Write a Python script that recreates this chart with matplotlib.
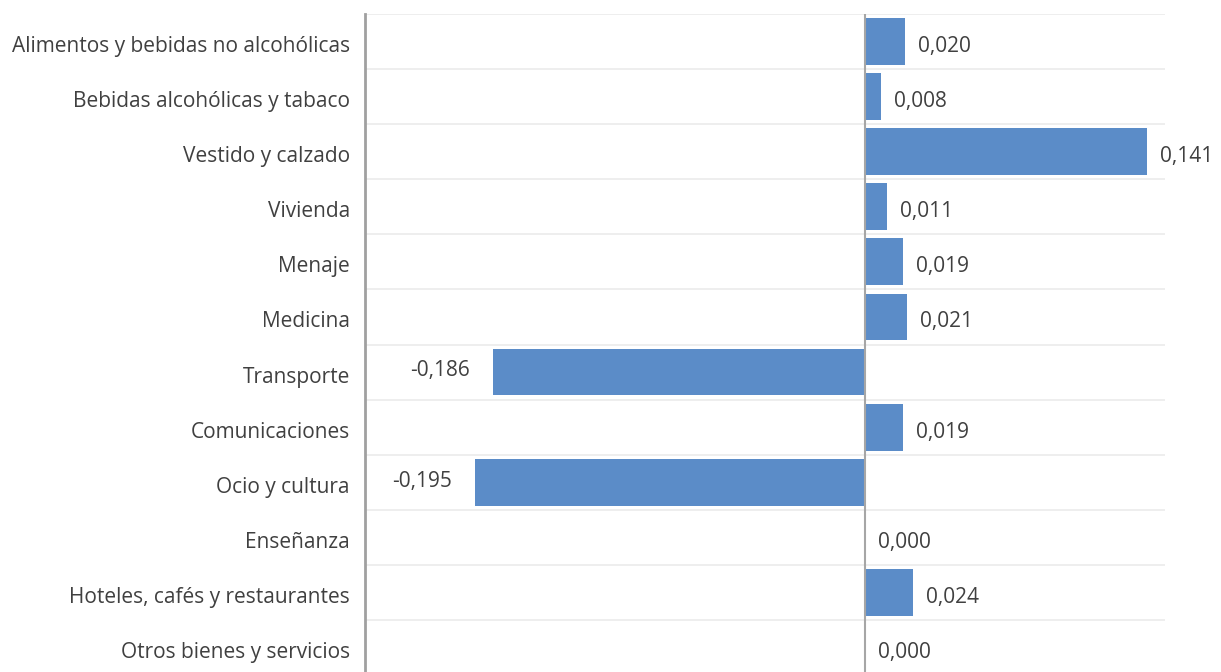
import matplotlib
matplotlib.use('Agg')
import matplotlib.pyplot as plt

plt.rcParams['font.family'] = ['Open Sans', 'DejaVu Sans']

# --- Datos ---
categorias = [
    'Alimentos y bebidas no alcohólicas',
    'Bebidas alcohólicas y tabaco',
    'Vestido y calzado',
    'Vivienda',
    'Menaje',
    'Medicina',
    'Transporte',
    'Comunicaciones',
    'Ocio y cultura',
    'Enseñanza',
    'Hoteles, cafés y restaurantes',
    'Otros bienes y servicios',
]
valores = [0.020, 0.008, 0.141, 0.011, 0.019, 0.021,
           -0.186, 0.019, -0.195, 0.000, 0.024, 0.000]

TEXT = '#404040'
BAR = '#5B8CC8'
FS = 15

W, H = 1221, 672
fig = plt.figure(figsize=(W / 100, H / 100), dpi=100)
# area de trazado: x 365..1165 px, y 14..675 px
ax = fig.add_axes([365 / W, (H - 675) / H, 800 / W, 661 / H])

pos = list(range(len(categorias)))
ax.barh(pos, valores, height=0.85, color=BAR, zorder=3)

# lineas de separacion entre categorias
for i in range(len(categorias) + 1):
    ax.axhline(i - 0.5, color='#ebebeb', linewidth=1.2, zorder=1)
ax.axvline(0, color='#a6a6a6', linewidth=1.5, zorder=4)

# etiquetas de datos
for p, v in zip(pos, valores):
    txt = f'{v:.3f}'.replace('.', ',')
    if v < 0:
        ax.text(v - 0.0115, p + 0.08, txt, ha='right', va='baseline',
                fontsize=FS, color=TEXT)
    else:
        ax.text(v + 0.0064, p + 0.19, txt, ha='left', va='baseline',
                fontsize=FS, color=TEXT)

# etiquetas de categorias
ytr = ax.get_yaxis_transform()
for p, c in zip(pos, categorias):
    ax.text(-15 / 800, p + 0.19, c, transform=ytr, ha='right', va='baseline',
            fontsize=FS, color=TEXT)

ax.set_xlim(-0.25, 0.15)
ax.set_ylim(len(categorias) - 0.5, -0.5)
ax.set_yticks([])
ax.set_xticks([])

for s in ['top', 'right', 'bottom']:
    ax.spines[s].set_visible(False)
ax.spines['left'].set_color('#a0a0a0')
ax.spines['left'].set_linewidth(2)

fig.savefig('out.png', dpi=100)
